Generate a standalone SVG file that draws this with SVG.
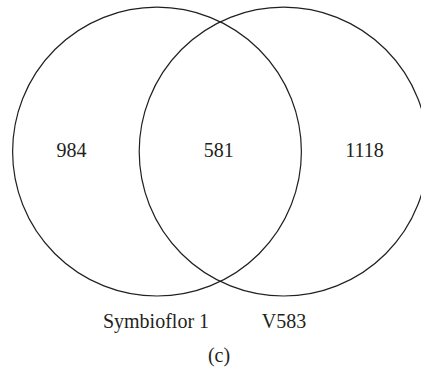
<svg xmlns="http://www.w3.org/2000/svg" width="421" height="374" viewBox="0 0 421 374">
<style>
.c{fill:none;stroke:#231f20;stroke-width:1.2}
text{font-family:"Liberation Serif","DejaVu Serif",serif;font-size:20px;fill:#231f20;text-anchor:middle}
</style>
<rect width="421" height="374" fill="#fff"/>
<g id="set-symbioflor">
<circle class="c" cx="157" cy="151.6" r="144.4"/>
<text x="156" y="328">Symbioflor 1</text>
</g>
<g id="set-v583">
<circle class="c" cx="283.6" cy="151.6" r="144.4"/>
<text x="284" y="328">V583</text>
</g>
<g id="counts">
<text x="71.5" y="157">984</text>
<text x="218.7" y="157">581</text>
<text x="364.5" y="157">1118</text>
</g>
<g id="connectors"/>
<text x="219" y="362">(c)</text>
</svg>
